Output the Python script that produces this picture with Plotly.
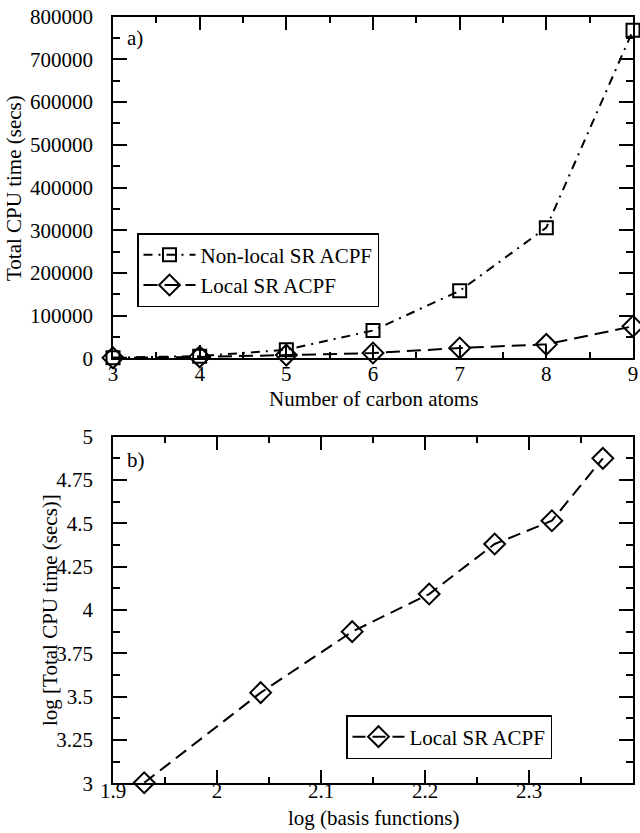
import plotly.graph_objects as go

# ---- data ----
carbon_atoms = [3, 4, 5, 6, 7, 8, 9]
nonlocal_cpu = [1500, 5000, 20000, 65000, 158000, 306000, 768000]
local_cpu = [1000, 3300, 7500, 12300, 24000, 32700, 75000]

log_basis = [1.930, 2.042, 2.130, 2.204, 2.267, 2.322, 2.371]
log_local_cpu = [3.003, 3.523, 3.875, 4.092, 4.381, 4.515, 4.875]

top_x_ticks = [3, 4, 5, 6, 7, 8, 9]
top_y_ticks = [0, 100000, 200000, 300000, 400000, 500000, 600000, 700000, 800000]
bot_x_ticks = [1.9, 2.0, 2.1, 2.2, 2.3, 2.4]
bot_x_text = ["1.9", "2", "2.1", "2.2", "2.3", ""]
bot_y_ticks = [3, 3.25, 3.5, 3.75, 4, 4.25, 4.5, 4.75, 5]
bot_y_text = ["3", "3.25", "3.5", "3.75", "4", "4.25", "4.5", "4.75", "5"]

FONT = "Liberation Serif"
FS = 21
W, H = 640, 833

fig = go.Figure()

fig.add_trace(go.Scatter(
    x=carbon_atoms, y=nonlocal_cpu, name="Non-local SR ACPF",
    mode="lines+markers", cliponaxis=False,
    line=dict(color="black", width=2, dash="9px,6px,2px,6px"),
    marker=dict(symbol="square-open", size=13, color="black", line=dict(width=2, color="black")),
    xaxis="x", yaxis="y", legend="legend"))
fig.add_trace(go.Scatter(
    x=carbon_atoms, y=local_cpu, name="Local SR ACPF",
    mode="lines+markers", cliponaxis=False,
    line=dict(color="black", width=2, dash="14px,7px"),
    marker=dict(symbol="diamond-open", size=16, color="black", line=dict(width=2, color="black")),
    xaxis="x", yaxis="y", legend="legend"))
fig.add_trace(go.Scatter(
    x=log_basis, y=log_local_cpu, name="Local SR ACPF",
    mode="lines+markers", cliponaxis=False,
    line=dict(color="black", width=2, dash="13px,7px"),
    marker=dict(symbol="diamond-open", size=16, color="black", line=dict(width=2, color="black")),
    xaxis="x2", yaxis="y2", legend="legend2"))

axis_common = dict(
    showline=True, linecolor="black", linewidth=1.5, mirror="ticks",
    ticks="inside", ticklen=14, tickwidth=1.5, tickcolor="black",
    showgrid=False, zeroline=False,
    tickfont=dict(family=FONT, size=FS, color="black"),
    automargin=False,
)

xd = [113 / W, 633 / W]
fig.update_layout(
    width=W, height=H,
    margin=dict(l=0, r=0, t=0, b=0),
    paper_bgcolor="white", plot_bgcolor="white",
    font=dict(family=FONT, size=FS, color="black"),
    xaxis=dict(domain=xd, range=[3, 9], tickvals=top_x_ticks, anchor="y",
               minor=dict(ticks="inside", ticklen=7, dtick=0.5, tickwidth=1.5, tickcolor="black"),
               ticklabelstandoff=-4,
               **axis_common),
    yaxis=dict(domain=[1 - 358.3 / H, 1 - 16.7 / H], range=[0, 800000], tickvals=top_y_ticks,
               tickformat="d", anchor="x",
               minor=dict(ticks="inside", ticklen=7, dtick=50000, tickwidth=1.5, tickcolor="black"),
               ticklabelstandoff=14,
               **axis_common),
    xaxis2=dict(domain=xd, range=[1.9, 2.4], tickvals=bot_x_ticks, ticktext=bot_x_text, anchor="y2",
                minor=dict(ticks="inside", ticklen=7, dtick=0.05, tickwidth=1.5, tickcolor="black"),
                ticklabelstandoff=-12,
                **axis_common),
    yaxis2=dict(domain=[1 - 783.3 / H, 1 - 436.7 / H], range=[3, 5], tickvals=bot_y_ticks,
                ticktext=bot_y_text, anchor="x2",
                minor=dict(ticks="inside", ticklen=7, dtick=0.125, tickwidth=1.5, tickcolor="black"),
                ticklabelstandoff=14,
                **axis_common),
    legend=dict(x=137 / W, y=1 - 270 / H, xanchor="left", yanchor="middle",
                bordercolor="black", borderwidth=1.5, bgcolor="white",
                font=dict(family=FONT, size=FS, color="black"),
                itemwidth=52, tracegroupgap=0),
    legend2=dict(x=346 / W, y=1 - 737 / H, xanchor="left", yanchor="middle",
                 bordercolor="black", borderwidth=1.5, bgcolor="white",
                 font=dict(family=FONT, size=FS, color="black"),
                 itemwidth=52),
    showlegend=True,
)

ann = dict(xref="paper", yref="paper", showarrow=False,
           font=dict(family=FONT, size=FS, color="black"))
fig.add_annotation(text="Total CPU time (secs)", x=14 / W, y=1 - 188 / H, textangle=-90,
                   xanchor="center", yanchor="middle", **ann)
fig.add_annotation(text="Number of carbon atoms", x=373 / W, y=1 - 399 / H,
                   xanchor="center", yanchor="middle", **ann)
fig.add_annotation(text="log [Total CPU time (secs)]", x=50 / W, y=1 - 610 / H, textangle=-90,
                   xanchor="center", yanchor="middle", **ann)
fig.add_annotation(text="log (basis functions)", x=373 / W, y=1 - 818 / H,
                   xanchor="center", yanchor="middle", **ann)
fig.add_annotation(text="a)", x=125 / W, y=1 - 38 / H, xanchor="left", yanchor="middle", **ann)
fig.add_annotation(text="b)", x=125 / W, y=1 - 460 / H, xanchor="left", yanchor="middle", **ann)

fig.write_html("out.html", config={"displayModeBar": False},
               post_script="document.body.style.margin='0';document.body.style.overflow='hidden';")
